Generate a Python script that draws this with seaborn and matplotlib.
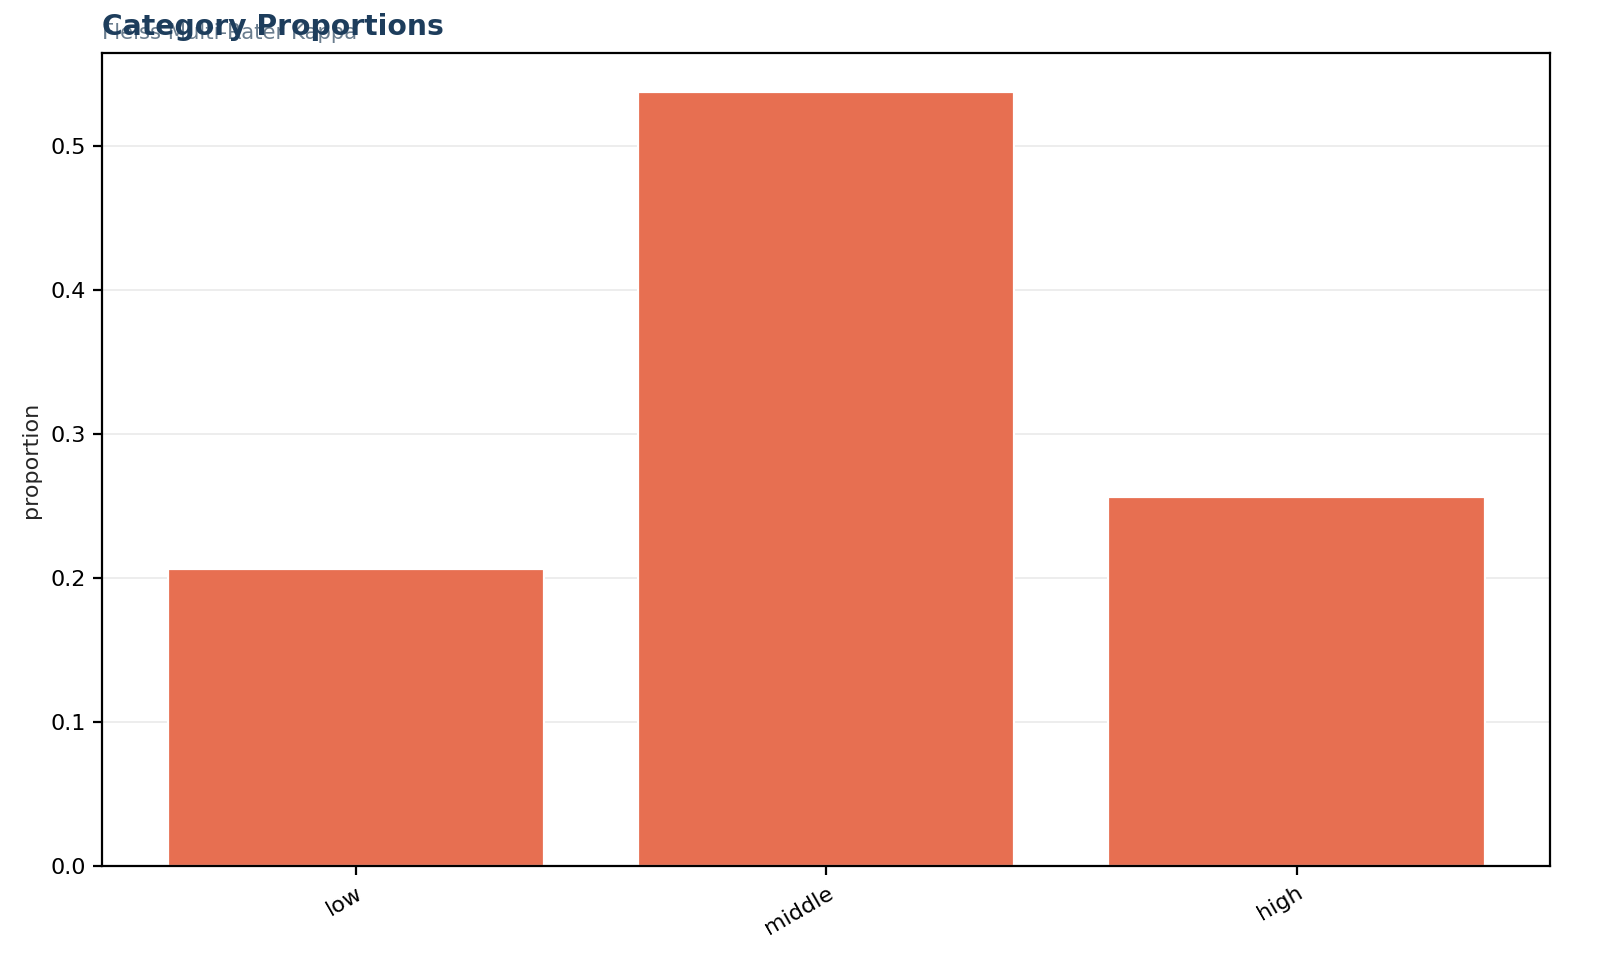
import matplotlib
matplotlib.use("Agg")
import matplotlib.pyplot as plt
import seaborn as sns
import pandas as pd

categories = ["low", "middle", "high"]
proportions = [0.206, 0.5375, 0.256]

sns.set_style("white")
plt.rcParams['font.family'] = ['DejaVu Sans']

df = pd.DataFrame({"category": categories, "proportion": proportions})

fig, ax = plt.subplots(figsize=(10, 6.1125), dpi=160)
fig.subplots_adjust(left=0.064, right=0.969, top=0.946, bottom=0.1145)

sns.barplot(data=df, x="category", y="proportion", color="#E76F51",
            saturation=1, width=0.8, ax=ax, order=categories)
ax.set_xlim(-0.54, 2.54)
ax.set_ylim(0, max(proportions) * 1.05)
ax.set_xlabel("")
ax.set_ylabel("proportion", fontsize=10)
ax.yaxis.grid(True, color="#e6e6e6", linewidth=0.8, alpha=0.8)
ax.set_axisbelow(True)
for s in ax.spines.values():
    s.set_visible(True)
    s.set_color("black")
    s.set_linewidth(1.0)
ax.tick_params(axis="both", which="both", bottom=True, left=True, length=4, width=1, labelsize=10, colors="black")
plt.setp(ax.get_xticklabels(), rotation=30, ha="right", rotation_mode="anchor")

ax.set_title("Category Proportions", loc="left", fontsize=12.7, fontweight="bold", color="#1d3d5c", pad=8)
ax.text(0.0, 1.012, "Fleiss Multi-Rater Kappa", transform=ax.transAxes, fontsize=9.5,
        color="#5a6f82", ha="left", va="bottom", alpha=0.9)

fig.savefig("out.png", dpi=160)
